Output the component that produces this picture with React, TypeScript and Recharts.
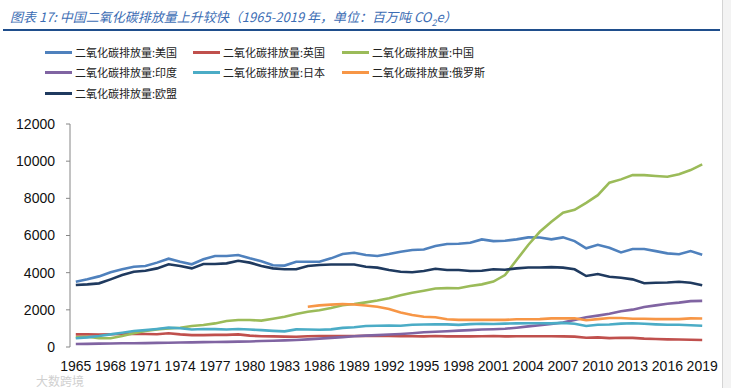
import React from 'react'
import { LineChart, Line, XAxis, YAxis } from 'recharts'

const years = [
  1965, 1966, 1967, 1968, 1969, 1970, 1971, 1972, 1973, 1974, 1975, 1976, 1977, 1978,
  1979, 1980, 1981, 1982, 1983, 1984, 1985, 1986, 1987, 1988, 1989, 1990, 1991, 1992,
  1993, 1994, 1995, 1996, 1997, 1998, 1999, 2000, 2001, 2002, 2003, 2004, 2005, 2006,
  2007, 2008, 2009, 2010, 2011, 2012, 2013, 2014, 2015, 2016, 2017, 2018, 2019,
]

const xLabels = [1965, 1968, 1971, 1974, 1977, 1980, 1983, 1986, 1989, 1992, 1995, 1998, 2001, 2004, 2007, 2010, 2013, 2016, 2019]
const yTicks = [0, 2000, 4000, 6000, 8000, 10000, 12000]

const usa = [
  3510, 3640, 3800, 4020, 4180, 4320, 4360, 4540, 4750, 4590, 4450, 4720, 4900, 4900,
  4950, 4770, 4610, 4400, 4380, 4590, 4590, 4590, 4770, 5000, 5070, 4950, 4900, 5000,
  5130, 5220, 5250, 5430, 5540, 5560, 5610, 5790, 5700, 5720, 5790, 5900, 5890, 5790,
  5900, 5700, 5310, 5500, 5340, 5090, 5270, 5270, 5160, 5040, 4990, 5160, 4970,
]
const uk = [
  680, 680, 670, 690, 700, 720, 700, 690, 740, 680, 640, 640, 650, 650,
  680, 610, 580, 570, 560, 550, 580, 590, 590, 590, 590, 600, 610, 590,
  580, 580, 570, 590, 570, 570, 570, 580, 590, 570, 580, 580, 580, 580,
  570, 560, 500, 520, 480, 500, 490, 450, 430, 410, 400, 390, 380,
]
const china = [
  520, 550, 470, 470, 590, 740, 860, 950, 1000, 1040, 1130, 1180, 1270, 1400,
  1450, 1450, 1420, 1520, 1630, 1780, 1900, 1980, 2100, 2250, 2310, 2400, 2500, 2620,
  2780, 2920, 3030, 3150, 3170, 3160, 3280, 3370, 3520, 3870, 4680, 5490, 6200, 6740,
  7230, 7380, 7760, 8170, 8840, 9020, 9250, 9250, 9200, 9160, 9300, 9520, 9830,
]
const india = [
  160, 170, 180, 190, 200, 200, 210, 220, 230, 240, 250, 260, 270, 275,
  290, 300, 320, 340, 355, 380, 410, 450, 490, 530, 580, 610, 640, 670,
  700, 740, 790, 820, 850, 880, 910, 940, 955, 980, 1040, 1110, 1170, 1240,
  1320, 1460, 1600, 1690, 1790, 1920, 2010, 2150, 2240, 2330, 2390, 2470, 2480,
]
const japan = [
  470, 520, 590, 680, 770, 860, 910, 970, 1040, 1010, 940, 970, 960, 940,
  970, 940, 910, 870, 840, 950, 940, 930, 950, 1030, 1060, 1130, 1140, 1150,
  1140, 1200, 1210, 1220, 1220, 1190, 1230, 1250, 1240, 1260, 1270, 1280, 1280, 1270,
  1300, 1250, 1130, 1200, 1210, 1260, 1280, 1250, 1220, 1200, 1200, 1170, 1140,
]
const russia = [
  null, null, null, null, null, null, null, null, null, null, null, null, null, null,
  null, null, null, null, null, null, 2170, 2240, 2280, 2310, 2290, 2230, 2170, 2040,
  1860, 1720, 1630, 1600, 1490, 1460, 1460, 1460, 1460, 1460, 1490, 1490, 1500, 1540,
  1540, 1550, 1440, 1500, 1560, 1560, 1520, 1520, 1500, 1500, 1500, 1540, 1530,
]
const eu = [
  3335, 3370, 3425, 3640, 3870, 4050, 4105, 4230, 4450, 4360, 4230, 4470, 4470, 4500,
  4640, 4540, 4360, 4230, 4180, 4180, 4360, 4410, 4440, 4440, 4440, 4320, 4270, 4140,
  4050, 4020, 4090, 4210, 4140, 4140, 4090, 4100, 4180, 4160, 4230, 4280, 4280, 4300,
  4270, 4180, 3820, 3930, 3780, 3730, 3640, 3430, 3460, 3470, 3510, 3460, 3320,
]

const series = [
  { key: 'usa', name: '二氧化碳排放量:美国', color: '#4F81BD', values: usa },
  { key: 'uk', name: '二氧化碳排放量:英国', color: '#C0504D', values: uk },
  { key: 'china', name: '二氧化碳排放量:中国', color: '#9BBB59', values: china },
  { key: 'india', name: '二氧化碳排放量:印度', color: '#8064A2', values: india },
  { key: 'japan', name: '二氧化碳排放量:日本', color: '#4BACC6', values: japan },
  { key: 'russia', name: '二氧化碳排放量:俄罗斯', color: '#F79646', values: russia },
  { key: 'eu', name: '二氧化碳排放量:欧盟', color: '#1F3A5F', values: eu },
]

const data = years.map((year, i) => {
  const row: Record<string, number | null> = { year }
  series.forEach((s) => {
    row[s.key] = s.values[i]
  })
  return row
})

// boundaries between years, for the small category ticks on the x axis
const bounds = [years[0] - 0.5, ...years.map((y) => y + 0.5)]

const cjk = '"Noto Sans CJK SC", sans-serif'
const legendCols = [45, 193, 342]
const legendRows = [52, 72, 93]

export default function App() {
  return (
    <div style={{ position: 'absolute', left: 0, top: 0, width: 731, height: 388, background: '#fff', overflow: 'hidden' }}>
      <div
        style={{
          position: 'absolute', left: 10, top: 7, fontFamily: cjk, fontStyle: 'italic',
          fontSize: 13, lineHeight: '19px', color: '#3C6DB4', whiteSpace: 'nowrap',
        }}
      >
        图表 17:  中国二氧化碳排放量上升较快（1965-2019 年，单位：百万吨 CO<sub style={{ fontSize: 9 }}>2</sub>e）
      </div>
      <div style={{ position: 'absolute', left: 3, top: 29, width: 717, height: 2, background: '#1F4E8C' }} />
      <div style={{ position: 'absolute', left: 722, top: 0, width: 9, height: 388, background: '#f3f3f3', borderLeft: '1px solid #d4d4d4' }} />

      {series.map((s, i) => (
        <div
          key={s.key}
          style={{
            position: 'absolute', left: legendCols[i % 3], top: legendRows[Math.floor(i / 3)] - 9,
            height: 18, display: 'flex', alignItems: 'center', fontFamily: cjk, fontSize: 11,
            color: '#222', whiteSpace: 'nowrap',
          }}
        >
          <span style={{ display: 'inline-block', width: 27, height: 3, background: s.color, marginRight: 3 }} />
          {s.name}
        </div>
      ))}

      <LineChart width={731} height={388} data={data} margin={{ top: 124, right: 23, bottom: 11, left: 0 }}>
        <XAxis
          xAxisId="bounds"
          dataKey="year"
          type="number"
          domain={[years[0] - 0.5, years[years.length - 1] + 0.5]}
          ticks={bounds}
          tick={false}
          tickSize={4}
          height={0}
          stroke="#868686"
          interval={0}
        />
        <XAxis
          xAxisId="main"
          dataKey="year"
          type="number"
          domain={[years[0] - 0.5, years[years.length - 1] + 0.5]}
          ticks={xLabels}
          interval={0}
          axisLine={false}
          tickLine={false}
          tickSize={0}
          tickMargin={14}
          height={30}
          tick={{ fontFamily: '"Liberation Sans", Arial, sans-serif', fontSize: 14, fill: '#111' }}
        />
        <YAxis
          domain={[0, 12000]}
          ticks={yTicks}
          interval={0}
          width={70}
          tickSize={4}
          tickMargin={11}
          stroke="#868686"
          tick={{ fontFamily: '"Liberation Sans", Arial, sans-serif', fontSize: 14, fill: '#111' }}
        />
        {series.map((s) => (
          <Line
            key={s.key}
            xAxisId="main"
            dataKey={s.key}
            name={s.name}
            stroke={s.color}
            strokeWidth={2.6}
            dot={false}
            isAnimationActive={false}
            connectNulls={false}
          />
        ))}
      </LineChart>

      <div
        style={{
          position: 'absolute', left: 36, top: 374, fontFamily: cjk, fontSize: 12,
          lineHeight: '14px', color: '#d0d0d0', whiteSpace: 'nowrap',
        }}
      >
        大数跨境
      </div>
    </div>
  )
}
